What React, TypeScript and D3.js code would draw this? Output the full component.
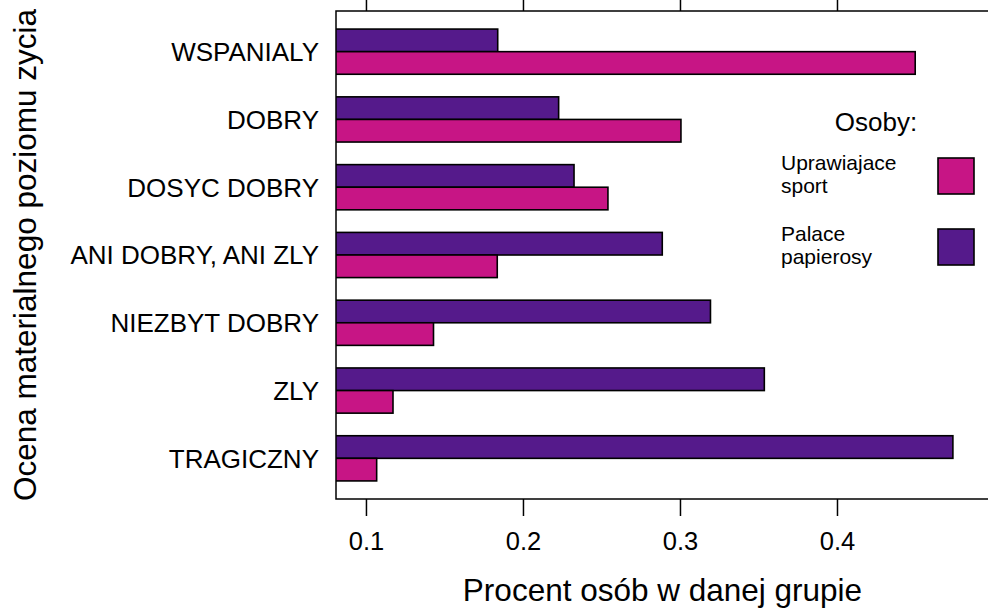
import { FC, useEffect, useRef } from 'react';
import * as d3 from 'd3';

// categories, top to bottom
const categories = [
  'WSPANIALY',
  'DOBRY',
  'DOSYC DOBRY',
  'ANI DOBRY, ANI ZLY',
  'NIEZBYT DOBRY',
  'ZLY',
  'TRAGICZNY',
];

const series = ['Palace papierosy', 'Uprawiajace sport'];

const smokers = [0.1836, 0.2224, 0.2322, 0.2884, 0.3191, 0.3534, 0.4735];
const sport = [0.4495, 0.3003, 0.2538, 0.1833, 0.1427, 0.1169, 0.1065];

const xTicks = [0.1, 0.2, 0.3, 0.4];

const legendItems = [
  { lines: ['Uprawiajace', 'sport'], color: '#C71585' },
  { lines: ['Palace', 'papierosy'], color: '#551A8B' },
];

const colors: Record<string, string> = {
  'Palace papierosy': '#551A8B',
  'Uprawiajace sport': '#C71585',
};

const FONT = '"Liberation Sans", Arial, Helvetica, sans-serif';

const BarChart: FC<{ width?: number; height?: number }> = ({ width = 988, height = 614 }) => {
  const svgRef = useRef<SVGSVGElement>(null);

  useEffect(() => {
    if (!svgRef.current) return;
    document.body.style.margin = '0';

    const svg = d3.select(svgRef.current);
    svg.selectAll('*').remove();

    const plot = { left: 336, right: 989, top: 11, bottom: 499 };

    const x = d3.scaleLinear()
      .domain([0.0806, 0.4965])
      .range([plot.left, plot.right]);

    const y = d3.scaleBand<string>()
      .domain(categories)
      .range([plot.top, plot.bottom])
      .paddingInner(1 / 3)
      .paddingOuter(0.2667);

    const ySub = d3.scaleBand<string>()
      .domain(series)
      .range([0, y.bandwidth()]);

    svg.append('defs')
      .append('clipPath')
      .attr('id', 'plot-clip')
      .append('rect')
      .attr('x', plot.left)
      .attr('y', plot.top)
      .attr('width', plot.right - plot.left)
      .attr('height', plot.bottom - plot.top);

    const bars = svg.append('g').attr('clip-path', 'url(#plot-clip)');

    categories.forEach((cat, i) => {
      const vals: Record<string, number> = {
        'Palace papierosy': smokers[i],
        'Uprawiajace sport': sport[i],
      };
      series.forEach(s => {
        bars.append('rect')
          .attr('x', x(0))
          .attr('y', (y(cat) ?? 0) + (ySub(s) ?? 0))
          .attr('width', x(vals[s]) - x(0))
          .attr('height', ySub.bandwidth())
          .attr('fill', colors[s])
          .attr('stroke', '#000')
          .attr('stroke-width', 1.6);
      });

      svg.append('text')
        .attr('x', plot.left - 17)
        .attr('y', (y(cat) ?? 0) + y.bandwidth() / 2)
        .attr('dy', '0.36em')
        .attr('text-anchor', 'end')
        .attr('font-family', FONT)
        .attr('font-size', 26)
        .attr('fill', '#000')
        .text(cat);
    });

    // box
    svg.append('rect')
      .attr('x', plot.left)
      .attr('y', plot.top)
      .attr('width', plot.right - plot.left)
      .attr('height', plot.bottom - plot.top)
      .attr('fill', 'none')
      .attr('stroke', '#000')
      .attr('stroke-width', 1.5);

    // bottom axis + top ticks
    xTicks.forEach(t => {
      svg.append('line')
        .attr('x1', x(t)).attr('x2', x(t))
        .attr('y1', plot.bottom).attr('y2', plot.bottom + 17)
        .attr('stroke', '#000')
        .attr('stroke-width', 1.5);
      svg.append('text')
        .attr('x', x(t))
        .attr('y', 550)
        .attr('text-anchor', 'middle')
        .attr('font-family', FONT)
        .attr('font-size', 25.5)
        .text(t.toString());
      svg.append('line')
        .attr('x1', x(t)).attr('x2', x(t))
        .attr('y1', plot.top).attr('y2', plot.top - 17)
        .attr('stroke', '#000')
        .attr('stroke-width', 1.5);
    });

    svg.append('text')
      .attr('x', (plot.left + plot.right) / 2)
      .attr('y', 601)
      .attr('text-anchor', 'middle')
      .attr('font-family', FONT)
      .attr('font-size', 31.5)
      .text('Procent osób w danej grupie');

    svg.append('text')
      .attr('transform', `translate(36, ${(plot.top + plot.bottom) / 2}) rotate(-90)`)
      .attr('text-anchor', 'middle')
      .attr('font-family', FONT)
      .attr('font-size', 31.5)
      .text('Ocena materialnego poziomu zycia');

    // legend
    svg.append('text')
      .attr('x', 876)
      .attr('y', 131)
      .attr('text-anchor', 'middle')
      .attr('font-family', FONT)
      .attr('font-size', 26)
      .text('Osoby:');

    const legendTop = [158, 229];
    legendItems.forEach((item, i) => {
      svg.append('rect')
        .attr('x', 938)
        .attr('y', legendTop[i])
        .attr('width', 36)
        .attr('height', 36)
        .attr('fill', item.color)
        .attr('stroke', '#000')
        .attr('stroke-width', 1.6);
      item.lines.forEach((line, j) => {
        svg.append('text')
          .attr('x', 781)
          .attr('y', legendTop[i] + 12 + j * 23)
          .attr('font-family', FONT)
          .attr('font-size', 21)
          .text(line);
      });
    });
  }, [width, height]);

  return (
    <svg
      ref={svgRef}
      width={width}
      height={height}
      style={{ display: 'block', background: '#fff' }}
    />
  );
};

export default function App() {
  return <BarChart />;
}
